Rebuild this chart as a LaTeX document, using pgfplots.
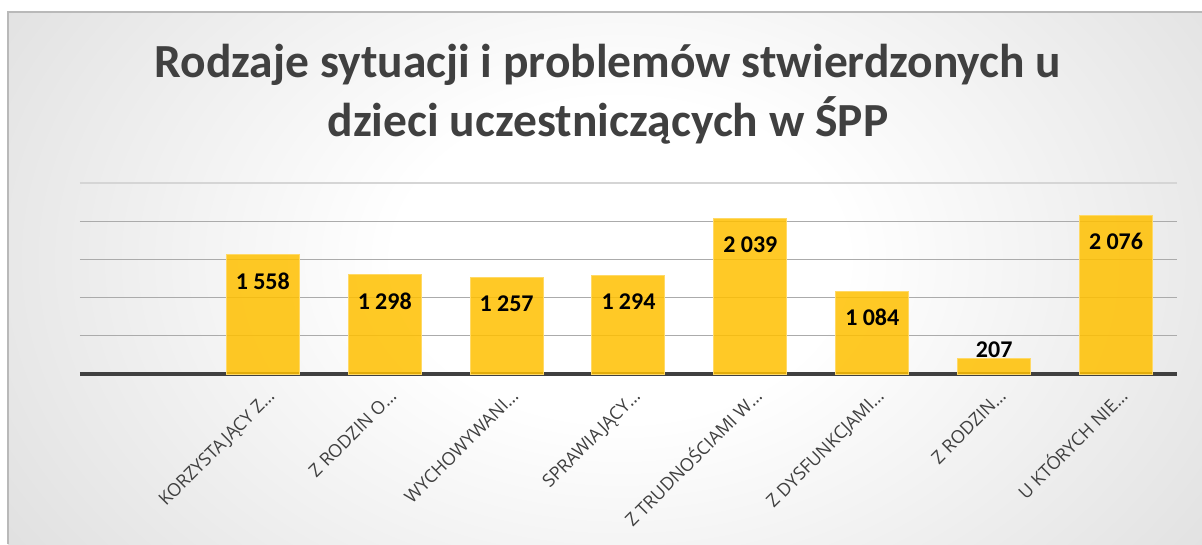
\documentclass[border=0pt]{standalone}
\usepackage{pgfplots}
\pgfplotsset{compat=1.18}
\usepackage{pgfplotstable}
\usetikzlibrary{backgrounds,calc}
\usepackage{fontspec}
\setmainfont{Carlito}
\newfontfamily\labelfont{Open Sans}
\definecolor{titlegray}{HTML}{404040}
\definecolor{barfill}{HTML}{FFC000}
\definecolor{barborder}{HTML}{FFD966}
\definecolor{gridgray}{HTML}{ABABAB}
\definecolor{gridlight}{HTML}{D5D5D5}
\definecolor{bgedge}{HTML}{C4C4C4}
\definecolor{bgmid}{HTML}{DADADA}
\pgfdeclareradialshading{bgshade}{\pgfpoint{0bp}{0bp}}{color(0bp)=(white); color(8bp)=(white); color(30bp)=(bgmid); color(45bp)=(bgedge); color(75bp)=(bgedge)}
\pgfplotstableread{
x y
1 1558
2 1298
3 1257
4 1294
5 2039
6 1084
8 2076
}\tallbars
\pgfplotstableread{
x y
7 207
}\shortbars
\begin{document}
\begin{tikzpicture}
\begin{axis}[
  name=ax,
  scale only axis, width=1097pt, height=191pt,
  xmin=-0.5, xmax=8.5, ymin=0, ymax=2500,
  axis x line*=bottom, axis y line*=left,
  y axis line style={draw=none},
  x axis line style={draw=titlegray, line width=3.5pt, -},
  ytick={500,1000,1500,2000}, yticklabels={}, ytick style={draw=none},
  ymajorgrids, major grid style={draw=gridgray, line width=1.3pt},
  extra y ticks={2500}, extra y tick labels={},
  extra y tick style={major grid style={draw=gridlight, line width=1.3pt}, tick style={draw=none}},
  xtick={1,2,3,4,5,6,7,8},
  xticklabels={KORZYSTAJĄCY Z…, Z RODZIN O…, WYCHOWYWANI…, SPRAWIAJĄCY…, Z TRUDNOŚCIAMI W…, Z DYSFUNKCJAMI…, Z RODZIN…, U KTÓRYCH NIE…},
  xtick style={draw=none},
  xticklabel style={font=\labelfont\fontsize{18}{21}\selectfont, text=titlegray, anchor=base east, xshift=13pt, yshift=-19pt, rotate=45, inner sep=0pt},
  ybar, bar width=73pt, bar shift=0pt,
  clip=false,
  /pgf/number format/.cd, 1000 sep={\kern0.22em}, assume math mode=true, /pgfplots/.cd,
]
\addplot[fill=barfill, fill opacity=0.85, draw=barborder, line width=1pt,
  nodes near coords,
  every node near coord/.append style={font=\fontsize{24}{27}\selectfont\bfseries, text=black, text opacity=1, fill opacity=1, anchor=center, yshift=-26pt}]
  table[x=x,y=y]{\tallbars};
\addplot[fill=barfill, fill opacity=0.85, draw=barborder, line width=1pt,
  nodes near coords,
  every node near coord/.append style={font=\fontsize{24}{27}\selectfont\bfseries, text=black, text opacity=1, fill opacity=1, anchor=center, yshift=8pt}]
  table[x=x,y=y]{\shortbars};
\end{axis}
\begin{scope}[on background layer, x=1pt, y=1pt, shift={($(ax.south west)+(-80pt,-170pt)$)}]
\useasboundingbox (0,0) rectangle (1202,544);
\fill[white] (0,0) rectangle (1202,544);
\begin{scope}
\clip (8,0) rectangle (1202,532);
\shade[shading=bgshade] (-80,-216) rectangle (1320,784);
\end{scope}
\draw[color=gray!55, line width=1.5pt] (8,0) -- (8,532) -- (1202,532);
\node[anchor=base, font=\fontsize{47.5}{54}\selectfont\bfseries, text=titlegray, inner sep=0pt] at (608,466) {Rodzaje sytuacji i problemów stwierdzonych u};
\node[anchor=base, font=\fontsize{47.5}{54}\selectfont\bfseries, text=titlegray, inner sep=0pt] at (608,407) {dzieci uczestniczących w ŚPP};
\end{scope}
\end{tikzpicture}
\end{document}
